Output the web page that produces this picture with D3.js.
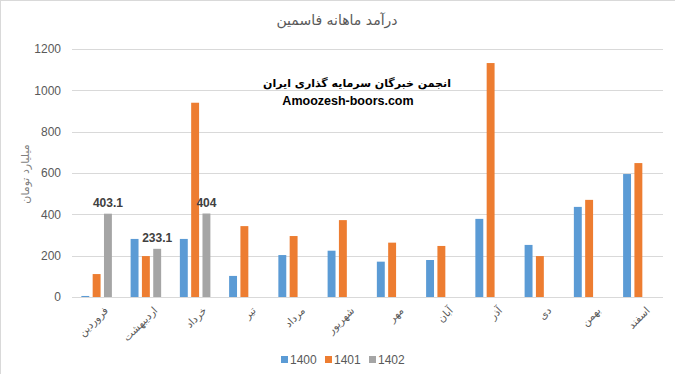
<!DOCTYPE html>
<html lang="fa">
<head>
    <meta charset="UTF-8">
    <title>درآمد ماهانه فاسمین</title>
    <script src="https://d3js.org/d3.v7.min.js"></script>
</head>
<style>
    html,body{
        margin:0px;
        padding:0px;
        background:#fff;
    }
    svg text{
        font-family:"Liberation Sans","DejaVu Sans",sans-serif;
    }
    .fa{
        font-family:"DejaVu Sans",sans-serif !important;
    }
</style>
<body>
<div id="chart"></div>
<script>
    // داده ها
    const months = ["فروردین","اردیبهشت","خرداد","تیر","مرداد","شهریور","مهر","آبان","آذر","دی","بهمن","اسفند"];
    const seriesNames = ["1400","1401","1402"];
    const y1400 = [5, 281, 281, 102, 203, 224, 171, 179, 378, 252, 436, 595];
    const y1401 = [111, 198, 940, 343, 295, 372, 263, 247, 1132, 198, 470, 648];
    const y1402 = [403.1, 233.1, 404, null, null, null, null, null, null, null, null, null];
    const yTicks = [0, 200, 400, 600, 800, 1000, 1200];
    const colors = ["#5B9BD5", "#ED7D31", "#A5A5A5"];

    const W = 675, H = 374;
    const svg = d3.select("#chart").append("svg")
        .attr("width", W)
        .attr("height", H);

    // قاب نمودار
    svg.append("rect")
        .attr("x", 0.5).attr("y", 0.5)
        .attr("width", W + 10).attr("height", H + 10)
        .attr("fill", "none")
        .attr("stroke", "#d9d9d9");

    const x = d3.scaleBand().domain(months).range([72, 663]).paddingInner(0.38).paddingOuter(0.19);
    const xs = d3.scaleBand().domain(seriesNames).range([0, x.bandwidth()]).paddingInner(0.3);
    const y = d3.scaleLinear().domain([0, 1200]).range([297, 49]);

    // خطوط شبکه
    svg.append("g").selectAll("line")
        .data(yTicks)
        .join("line")
        .attr("x1", 72).attr("x2", 663)
        .attr("y1", d => Math.round(y(d)) + 0.5)
        .attr("y2", d => Math.round(y(d)) + 0.5)
        .attr("stroke", "#d9d9d9");

    const yAxis = svg.append("g")
        .attr("transform", "translate(66,0)")
        .call(d3.axisLeft(y).tickValues(yTicks).tickFormat(d3.format("d")).tickSize(0).tickPadding(5));
    yAxis.select(".domain").remove();
    yAxis.selectAll("text").attr("fill", "#595959").attr("font-size", 12);

    // میله ها
    const table = months.map((m, i) => ({ month: m, vals: [y1400[i], y1401[i], y1402[i]] }));
    const groups = svg.append("g").selectAll("g")
        .data(table)
        .join("g")
        .attr("transform", d => "translate(" + x(d.month) + ",0)");
    groups.selectAll("rect")
        .data(d => d.vals.map((v, k) => ({ s: seriesNames[k], k: k, v: v })).filter(e => e.v != null))
        .join("rect")
        .attr("x", e => xs(e.s))
        .attr("width", xs.bandwidth())
        .attr("y", e => y(e.v))
        .attr("height", e => y(0) - y(e.v))
        .attr("fill", e => colors[e.k]);

    // برچسب داده های 1402
    groups.filter(d => d.vals[2] != null).append("text")
        .attr("x", xs("1402") + xs.bandwidth() / 2)
        .attr("y", d => y(d.vals[2]) - 7)
        .attr("text-anchor", "middle")
        .attr("font-size", 12)
        .attr("font-weight", "bold")
        .attr("fill", "#404040")
        .text(d => d.vals[2]);

    // برچسب محور افقی
    svg.append("g").selectAll("text")
        .data(months)
        .join("text")
        .attr("class", "fa")
        .attr("transform", d => "translate(" + (x(d) + x.bandwidth() / 2 + 7) + ",306) rotate(-45)")
        .attr("text-anchor", "end")
        .attr("dy", "0.7em")
        .attr("font-size", 10.5)
        .attr("fill", "#595959")
        .text(d => d);

    // عنوان
    svg.append("text")
        .attr("class", "fa")
        .attr("x", 337).attr("y", 25)
        .attr("text-anchor", "middle")
        .attr("font-size", 14)
        .attr("fill", "#595959")
        .text("درآمد ماهانه فاسمین");

    // عنوان محور
    svg.append("text")
        .attr("class", "fa")
        .attr("transform", "translate(29,174) rotate(-90)")
        .attr("text-anchor", "middle")
        .attr("font-size", 11)
        .attr("fill", "#7f7f7f")
        .text("میلیارد تومان");

    // متن واترمارک
    svg.append("text")
        .attr("class", "fa")
        .attr("x", 357).attr("y", 87)
        .attr("text-anchor", "middle")
        .attr("font-size", 11)
        .attr("font-weight", "bold")
        .attr("fill", "#000")
        .text("انجمن خبرگان سرمایه گذاری ایران");
    svg.append("text")
        .attr("x", 348).attr("y", 105)
        .attr("text-anchor", "middle")
        .attr("font-size", 12.5)
        .attr("font-weight", "bold")
        .attr("fill", "#000")
        .text("Amoozesh-boors.com");

    // راهنما
    const legendX = [281, 325, 369];
    const legend = svg.append("g").selectAll("g")
        .data(seriesNames)
        .join("g")
        .attr("transform", (d, i) => "translate(" + legendX[i] + ",356)");
    legend.append("rect")
        .attr("width", 7).attr("height", 7)
        .attr("fill", (d, i) => colors[i]);
    legend.append("text")
        .attr("x", 9).attr("y", 8)
        .attr("font-size", 12)
        .attr("fill", "#595959")
        .text(d => d);
</script>
</body>
</html>
